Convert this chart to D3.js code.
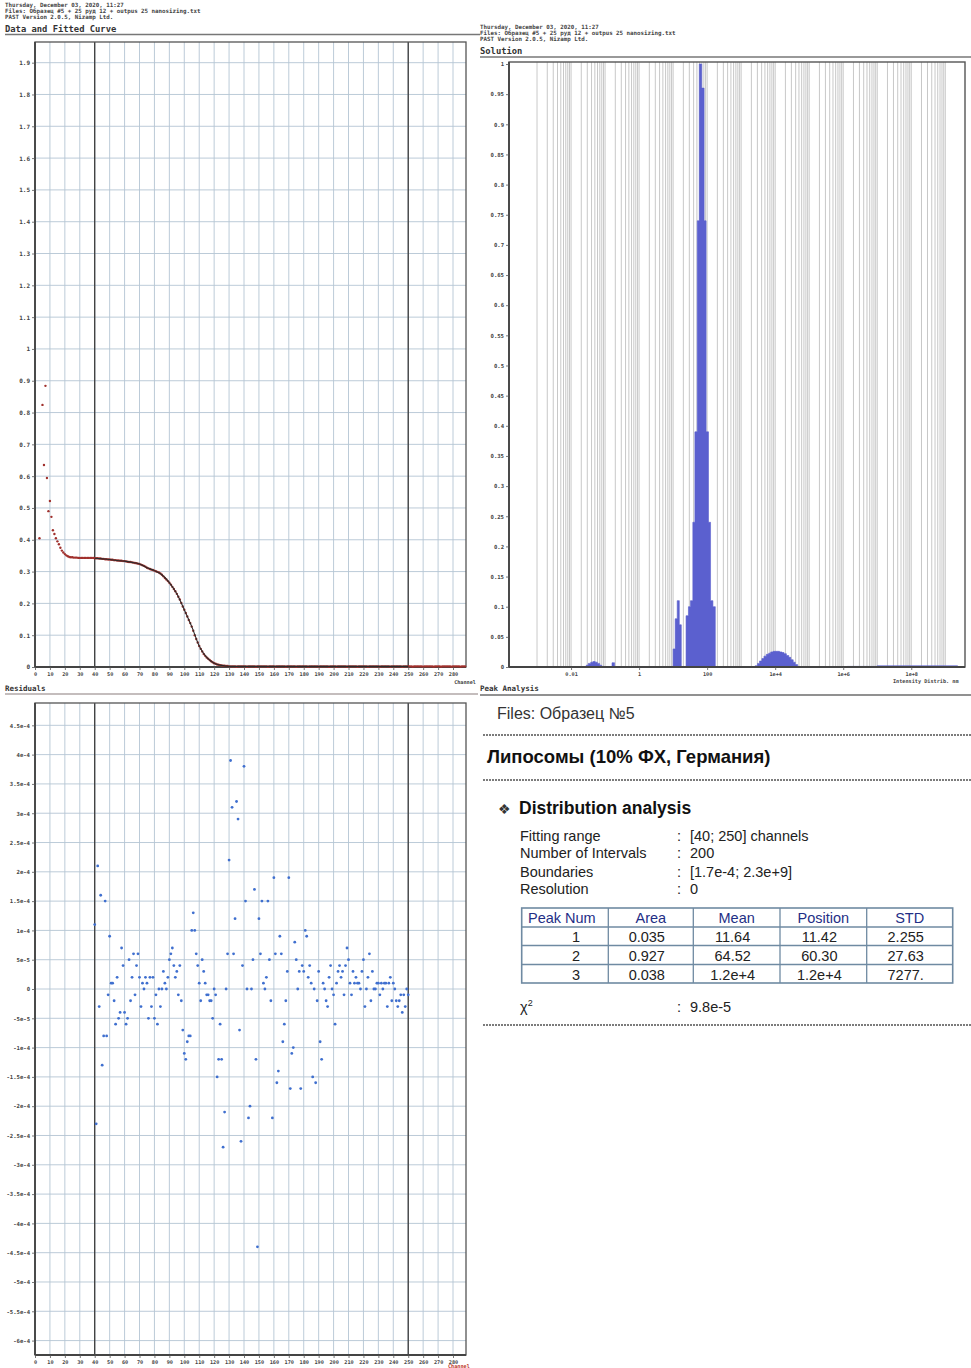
<!DOCTYPE html>
<html><head><meta charset="utf-8">
<script src="https://cdn.jsdelivr.net/npm/d3@7"></script>
<style>body{margin:0;background:#fff}svg{display:block}</style>
</head><body><svg id="c" width="971" height="1368"></svg>
<script>
// ---------- DATA ----------
const channelTicks = [0,10,20,30,40,50,60,70,80,90,100,110,120,130,140,150,160,170,180,190,200,210,220,230,240,250,260,270,280];
const fitRange = [40, 250];
const dataYTicks = [0,0.1,0.2,0.3,0.4,0.5,0.6,0.7,0.8,0.9,1,1.1,1.2,1.3,1.4,1.5,1.6,1.7,1.8,1.9];
const dataYLabels = ["0","0.1","0.2","0.3","0.4","0.5","0.6","0.7","0.8","0.9","1","1.1","1.2","1.3","1.4","1.5","1.6","1.7","1.8","1.9"];
// measured data, channel 3..288, in thousandths (null = not shown)
const dataStartChannel = 3;
const dataMilli = [405,null,824,635,884,594,490,522,472,430,418,405,395,386,375,366,360,355,351,348,346,345,345,
344,344,344,343,343,343,343,343,343,343,343,343,343,343,
342,342,342,341,341,340,340,339,339,338,338,337,337,336,336,335,335,334,334,333,
333,332,331,330,330,329,328,327,326,325,324,322,320,318,315,312,310,308,306,305,
303,301,299,297,294,290,285,280,275,270,265,259,252,245,238,230,221,212,201,190,
180,170,159,148,138,127,114,100,88,77,66,57,49,41,35,30,26,22,18,15,12,10,8,7,6,5,4,4,3,3,2,
2,2,2,2,1,2,2,2,2,2, 2,1,2,2,2,2,2,1,2,2, 2,2,2,2,2,1,2,2,2,2, 1,2,2,2,2,2,2,1,2,2,
2,2,2,2,1,2,2,2,2,2, 2,2,1,2,2,2,2,2,2,1, 2,2,2,2,2,2,1,2,2,2, 2,1,2,2,2,2,2,2,1,2,
2,2,2,2,2,1,2,2,2,2, 2,2,1,2,2,2,2,2,2,2, 1,2,2,2,2,2,2,1,2,2, 2,2,2,2,2,1,2,2,2,2,
2,2,1,2,2,2,2,2,2,1, 2,2,2,2,2,2,1,2,2,2, 2,1,2,2,2,2,2,2,1,2, 2,2,2,2,1,2,2,2];
const fitChannels = [40,45,50,55,60,65,70,75,80,85,90,95,100,105,110,115,120,125,130,135,140,145,150,155,160,165,170,175,180,185,190,195,200,205,210,215,220,225,230,235,240,245,250];
const fitValues = [0.342,0.340,0.338,0.335,0.333,0.329,0.324,0.312,0.303,0.290,0.265,0.230,0.180,0.127,0.066,0.030,0.012,0.005,0.002,0.002,0.002,0.002,0.002,0.002,0.002,0.002,0.002,0.002,0.002,0.002,0.002,0.002,0.002,0.002,0.002,0.002,0.002,0.002,0.002,0.002,0.002,0.002,0.002];

// residuals, channel 40..250, in units of 1e-5
const residualStartChannel = 40;
const residualE5 = [11,-23,21,-3,16,-13,-8,15,-8,-1,
9,1,1,-2,-6,2,-5,-4,7,4,
-4,-6,-5,5,-2,2,6,-1,4,6,
2,-3,1,0,2,1,-5,2,-3,2,
-5,-1,-6,0,-3,0,3,1,0,2,
5,6,7,4,2,3,-1,4,-2,-7,
-11,-12,-9,-8,-8,10,13,10,6,4,
1,-2,5,3,1,-1,-1,-2,-2,-5,
0,-1,-15,-12,-6,-12,-27,-21,0,6,
22,39,31,6,12,32,29,-7,-26,4,
38,15,0,-22,-20,0,5,17,-12,-44,
12,6,15,1,0,2,15,5,-2,-22,
19,6,-16,-14,9,6,-9,-6,-2,3,
19,-17,-11,-10,8,5,0,3,-17,4,
3,10,9,2,4,1,-15,0,-16,-2,
3,-9,-12,1,0,-2,-3,2,4,0,
-1,-6,1,3,4,2,3,-1,4,7,
5,1,-1,3,1,2,1,1,0,3,
5,-3,0,2,6,-2,3,0,0,1,
1,-1,1,0,1,1,-3,1,2,-2,
1,0,-2,-3,-2,-1,-4,-1,-3,0,
-1];
const residYTicks = [4.5e-4,4e-4,3.5e-4,3e-4,2.5e-4,2e-4,1.5e-4,1e-4,5e-5,0,-5e-5,-1e-4,-1.5e-4,-2e-4,-2.5e-4,-3e-4,-3.5e-4,-4e-4,-4.5e-4,-5e-4,-5.5e-4,-6e-4];
const residYLabels = ["4.5e-4","4e-4","3.5e-4","3e-4","2.5e-4","2e-4","1.5e-4","1e-4","5e-5","0","-5e-5","-1e-4","-1.5e-4","-2e-4","-2.5e-4","-3e-4","-3.5e-4","-4e-4","-4.5e-4","-5e-4","-5.5e-4","-6e-4"];

// solution (intensity distribution) – size in nm, intensity
const solSize = [0.024,0.028,0.032,0.038,0.044,0.051,0.059,0.069,0.079,0.093,
0.14,0.16,0.19,
10.0,11.5,13.2,15.2,17.4,
24.0,28.2,32.4,38.0,43.7,51.3,58.9,69.2,81.3,93.3,109.6,125.9,147.9,173.8,
2570,3020,3470,4070,4680,5500,6460,7410,8710,10000,11750,13490,15850,18200,21380,25120,28840,33880,38900,45710,52480,
1.3e6,1e7,1e8,1e9,2.3e9];
const solIntensity = [0,0.003,0.006,0.008,0.009,0.008,0.006,0.003,0.001,0,
0,0.007,0,
0.03,0.08,0.11,0.07,0,
0.085,0.10,0.11,0.24,0.39,0.74,1.0,0.96,0.74,0.39,0.24,0.11,0.10,0,
0.002,0.006,0.010,0.014,0.018,0.021,0.023,0.025,0.026,0.026,0.026,0.025,0.024,0.022,0.019,0.016,0.012,0.008,0.004,0.001,0,
0.001,0.002,0.002,0.002,0];
const solGridRange = [1e-3, 1e9];
const solXTicks = [0.01,1,100,1e4,1e6,1e8];
const solXLabels = ["0.01","1","100","1e+4","1e+6","1e+8"];
const solYTicks = [0,0.05,0.1,0.15,0.2,0.25,0.3,0.35,0.4,0.45,0.5,0.55,0.6,0.65,0.7,0.75,0.8,0.85,0.9,0.95,1];
const solYLabels = ["0","0.05","0.1","0.15","0.2","0.25","0.3","0.35","0.4","0.45","0.5","0.55","0.6","0.65","0.7","0.75","0.8","0.85","0.9","0.95","1"];

// peak analysis
const peakHeader = ["Peak Num","Area","Mean","Position","STD"];
const peakNum = ["1","2","3"];
const peakArea = ["0.035","0.927","0.038"];
const peakMean = ["11.64","64.52","1.2e+4"];
const peakPosition = ["11.42","60.30","1.2e+4"];
const peakSTD = ["2.255","27.63","7277."];
const infoLabels = ["Fitting range","Number of Intervals","Boundaries","Resolution"];
const infoValues = ["[40; 250] channels","200","[1.7e-4; 2.3e+9]","0"];
const chiValue = "9.8e-5";

// ---------- DRAW ----------
const svg = d3.select("#c");
svg.append("rect").attr("width",971).attr("height",1368).attr("fill","#fff");
const MONO = "'DejaVu Sans Mono', monospace";
const SANS = "'Liberation Sans', Arial, sans-serif";
const gridCol = "#b4c5d4";

function tiny(x,y,t,opts={}) {
  return svg.append("text").attr("x",x).attr("y",y).text(t)
    .attr("font-family",MONO).attr("font-weight","bold")
    .attr("font-size",opts.size||5.8).attr("fill",opts.fill||"#444")
    .attr("text-anchor",opts.anchor||"start");
}
function styleAxis(g, size){
  g.select(".domain").remove();
  g.selectAll("line").attr("stroke","#555").attr("stroke-width",0.8);
  g.selectAll("text").attr("font-family",MONO).attr("font-weight","bold")
    .attr("font-size",size||5).attr("fill","#444");
}

// headers
tiny(5,7,"Thursday, December 03, 2020, 11:27");
tiny(5,13,"Files: Образец #5 + 25 руд 12 + outpus 25 nanosizing.txt");
tiny(5,19,"PAST Version 2.0.5, Nizamp Ltd.");
tiny(5,32,"Data and Fitted Curve",{size:8.8,fill:"#333"});
svg.append("line").attr("x1",5).attr("x2",480).attr("y1",34.5).attr("y2",34.5).attr("stroke","#777").attr("stroke-width",1.3);

tiny(480,29,"Thursday, December 03, 2020, 11:27");
tiny(480,35,"Files: Образец #5 + 25 руд 12 + outpus 25 nanosizing.txt");
tiny(480,41,"PAST Version 2.0.5, Nizamp Ltd.");
tiny(480,54,"Solution",{size:8.8,fill:"#333"});
svg.append("line").attr("x1",480).attr("x2",971).attr("y1",57).attr("y2",57).attr("stroke","#777").attr("stroke-width",1.3);

tiny(5,691,"Residuals",{size:7.5,fill:"#333"});
svg.append("line").attr("x1",5).attr("x2",478).attr("y1",694).attr("y2",694).attr("stroke","#8a7d7d").attr("stroke-width",1.2);
tiny(480,691,"Peak Analysis",{size:7.5,fill:"#333"});
svg.append("line").attr("x1",480).attr("x2",971).attr("y1",695).attr("y2",695).attr("stroke","#6d6d6d").attr("stroke-width",1.6);

// ---- Data and Fitted Curve panel ----
const P1 = {l:35,r:466,t:42,b:667};
const xCh = d3.scaleLinear().domain([0,288.7]).range([P1.l,P1.r]);
const yData = d3.scaleLinear().domain([0,1.965]).range([P1.b,P1.t]);
const g1 = svg.append("g");
g1.selectAll("line.v").data(channelTicks).join("line")
  .attr("x1",d=>xCh(d)).attr("x2",d=>xCh(d)).attr("y1",P1.t).attr("y2",P1.b)
  .attr("stroke",gridCol).attr("stroke-width",0.9);
g1.selectAll("line.h").data(dataYTicks).join("line")
  .attr("x1",P1.l).attr("x2",P1.r).attr("y1",d=>yData(d)).attr("y2",d=>yData(d))
  .attr("stroke",gridCol).attr("stroke-width",0.9);
g1.selectAll("line.fr").data(fitRange).join("line")
  .attr("x1",d=>xCh(d)).attr("x2",d=>xCh(d)).attr("y1",P1.t).attr("y2",P1.b)
  .attr("stroke","#3a3a3a").attr("stroke-width",1.3);
g1.append("rect").attr("x",P1.l).attr("y",P1.t).attr("width",P1.r-P1.l).attr("height",P1.b-P1.t)
  .attr("fill","none").attr("stroke","#555").attr("stroke-width",1.3);
g1.append("line").attr("x1",P1.l).attr("x2",P1.l).attr("y1",P1.t).attr("y2",P1.b).attr("stroke","#444").attr("stroke-width",1.8);
g1.append("line").attr("x1",P1.l).attr("x2",P1.r).attr("y1",P1.b).attr("y2",P1.b).attr("stroke","#444").attr("stroke-width",1.8);
const dataPts = dataMilli.map((v,i)=>({ch:dataStartChannel+i, v:v})).filter(d=>d.v!==null);
g1.selectAll("circle").data(dataPts).join("circle")
  .attr("cx",d=>xCh(d.ch)).attr("cy",d=>yData(d.v/1000)).attr("r",1.2).attr("fill","#a0302c");
const fitLine = d3.line().x((d,i)=>xCh(fitChannels[i])).y(d=>yData(d)).curve(d3.curveMonotoneX);
g1.append("path").attr("d",fitLine(fitValues)).attr("fill","none").attr("stroke","#2b2b2b").attr("stroke-width",1.1);
const ax1 = svg.append("g").attr("transform",`translate(${P1.l},0)`)
  .call(d3.axisLeft(yData).tickValues(dataYTicks).tickFormat((d,i)=>dataYLabels[i]).tickSize(3).tickPadding(2));
styleAxis(ax1,6);
const ax1b = svg.append("g").attr("transform",`translate(0,${P1.b})`)
  .call(d3.axisBottom(xCh).tickValues(channelTicks).tickFormat(d=>String(d)).tickSize(3).tickPadding(2));
styleAxis(ax1b,5.2);
tiny(P1.r+10,684,"Channel",{size:5.2,anchor:"end"});

// ---- Residuals panel ----
const P3 = {l:35,r:466,t:703,b:1355};
const yRes = d3.scaleLinear().domain([-6.246e-4,4.881e-4]).range([P3.b,P3.t]);
const g3 = svg.append("g");
g3.selectAll("line.v").data(channelTicks).join("line")
  .attr("x1",d=>xCh(d)).attr("x2",d=>xCh(d)).attr("y1",P3.t).attr("y2",P3.b)
  .attr("stroke",gridCol).attr("stroke-width",0.9);
g3.selectAll("line.h").data(residYTicks).join("line")
  .attr("x1",P3.l).attr("x2",P3.r).attr("y1",d=>yRes(d)).attr("y2",d=>yRes(d))
  .attr("stroke",gridCol).attr("stroke-width",0.9);
g3.selectAll("line.fr").data(fitRange).join("line")
  .attr("x1",d=>xCh(d)).attr("x2",d=>xCh(d)).attr("y1",P3.t).attr("y2",P3.b)
  .attr("stroke","#3a3a3a").attr("stroke-width",1.3);
g3.append("rect").attr("x",P3.l).attr("y",P3.t).attr("width",P3.r-P3.l).attr("height",P3.b-P3.t)
  .attr("fill","none").attr("stroke","#555").attr("stroke-width",1.3);
g3.append("line").attr("x1",P3.l).attr("x2",P3.l).attr("y1",P3.t).attr("y2",P3.b).attr("stroke","#444").attr("stroke-width",1.8);
g3.append("line").attr("x1",P3.l).attr("x2",P3.r).attr("y1",P3.b).attr("y2",P3.b).attr("stroke","#444").attr("stroke-width",1.8);
g3.selectAll("circle").data(residualE5).join("circle")
  .attr("cx",(d,i)=>xCh(residualStartChannel+i)).attr("cy",d=>yRes(d*1e-5))
  .attr("r",1.4).attr("fill","#3f6fcf");
const ax3 = svg.append("g").attr("transform",`translate(${P3.l},0)`)
  .call(d3.axisLeft(yRes).tickValues(residYTicks).tickFormat((d,i)=>residYLabels[i]).tickSize(3).tickPadding(2));
styleAxis(ax3,5.6);
const ax3b = svg.append("g").attr("transform",`translate(0,${P3.b})`)
  .call(d3.axisBottom(xCh).tickValues(channelTicks).tickFormat(d=>String(d)).tickSize(3).tickPadding(2));
styleAxis(ax3b,5.2);
tiny(448,1368,"Channel",{size:5.2,fill:"#c0392b"});

// ---- Solution panel ----
const P2 = {l:509,r:965,t:62,b:667};
const xSol = d3.scaleLog().domain([1.5e-4,3.8e9]).range([P2.l,P2.r]);
const ySol = d3.scaleLinear().domain([0,1]).range([P2.b,64]);
const g2 = svg.append("g");
const solGrid = xSol.ticks(60).filter(d=>d>=solGridRange[0] && d<=solGridRange[1]);
g2.selectAll("line.v").data(solGrid).join("line")
  .attr("x1",d=>xSol(d)).attr("x2",d=>xSol(d)).attr("y1",P2.t).attr("y2",P2.b)
  .attr("stroke","#c2c2c2").attr("stroke-width",0.9);
const solPts = solSize.map((s,i)=>({s:s,v:solIntensity[i]}));
const area = d3.area().x(d=>xSol(d.s)).y0(ySol(0)).y1(d=>ySol(d.v)).curve(d3.curveStepAfter);
g2.append("path").attr("d",area(solPts)).attr("fill","#5b60cf").attr("stroke","#5b60cf").attr("stroke-width",0.6);
g2.append("rect").attr("x",P2.l).attr("y",P2.t).attr("width",P2.r-P2.l).attr("height",P2.b-P2.t)
  .attr("fill","none").attr("stroke","#555").attr("stroke-width",1.4);
g2.append("line").attr("x1",P2.l).attr("x2",P2.l).attr("y1",P2.t).attr("y2",P2.b).attr("stroke","#444").attr("stroke-width",1.8);
g2.append("line").attr("x1",P2.l).attr("x2",P2.r).attr("y1",P2.b).attr("y2",P2.b).attr("stroke","#444").attr("stroke-width",1.8);
const ax2 = svg.append("g").attr("transform",`translate(${P2.l},0)`)
  .call(d3.axisLeft(ySol).tickValues(solYTicks).tickFormat((d,i)=>solYLabels[i]).tickSize(3).tickPadding(2));
styleAxis(ax2,5.6);
const ax2b = svg.append("g").attr("transform",`translate(0,${P2.b})`)
  .call(d3.axisBottom(xSol).tickValues(solXTicks).tickFormat((d,i)=>solXLabels[i]).tickSize(3).tickPadding(2));
styleAxis(ax2b,5.2);
tiny(893,683,"Intensity Distrib. nm",{size:5.2});

// ---- Peak Analysis text ----
function txt(x,y,t,o={}){
  return svg.append("text").attr("x",x).attr("y",y).text(t)
    .attr("font-family",SANS).attr("font-size",o.size||14.5)
    .attr("font-weight",o.bold?"bold":"normal").attr("fill",o.fill||"#222")
    .attr("text-anchor",o.anchor||"start");
}
function sepLine(y){
  svg.append("line").attr("x1",483).attr("x2",971).attr("y1",y).attr("y2",y)
    .attr("stroke","#7c7c7c").attr("stroke-width",2.2).attr("stroke-dasharray","2,1");
}
txt(497,719,"Files: Образец №5",{size:16,fill:"#333"});
sepLine(735);
txt(487,763,"Липосомы (10% ФХ, Германия)",{size:18.5,bold:true,fill:"#111"});
sepLine(780);
txt(498,814,"❖",{size:14,fill:"#333"});
txt(519,814,"Distribution analysis",{size:17.5,bold:true,fill:"#111"});
const infoY = [841,858,877,894];
infoLabels.forEach((l,i)=>{
  txt(520,infoY[i],l);
  txt(677,infoY[i],":");
  txt(690,infoY[i],infoValues[i]);
});
// table
const colX = [521.7,608.3,693.3,780,866.7,952.7];
const rowY = [908,927,945.5,964.5,983];
const tg = svg.append("g");
tg.append("rect").attr("x",colX[0]).attr("y",rowY[0]).attr("width",colX[5]-colX[0]).attr("height",rowY[4]-rowY[0])
  .attr("fill","none").attr("stroke","#6f8aa2").attr("stroke-width",1.6);
tg.selectAll("line.c").data(colX.slice(1,5)).join("line")
  .attr("x1",d=>d).attr("x2",d=>d).attr("y1",rowY[0]).attr("y2",rowY[4]).attr("stroke","#6f8aa2").attr("stroke-width",1.3);
tg.selectAll("line.r").data(rowY.slice(1,4)).join("line")
  .attr("x1",colX[0]).attr("x2",colX[5]).attr("y1",d=>d).attr("y2",d=>d).attr("stroke","#6f8aa2").attr("stroke-width",1.3);
const headY = 923, valY = [942,961,980];
txt(528,headY,peakHeader[0],{fill:"#1f2f86"});
[1,2,3,4].forEach(k=>txt((colX[k]+colX[k+1])/2,headY,peakHeader[k],{fill:"#1f2f86",anchor:"middle"}));
const cols = [peakArea,peakMean,peakPosition,peakSTD];
peakNum.forEach((n,r)=>{
  txt(580,valY[r],n,{anchor:"end"});
  cols.forEach((c,k)=>txt((colX[k+1]+colX[k+2])/2-4,valY[r],c[r],{anchor:"middle"}));
});
const chi = txt(520,1012,"χ");
chi.append("tspan").attr("dy",-6).attr("font-size",9).text("2");
txt(677,1012,":");
txt(690,1012,chiValue);
sepLine(1025);
</script>
</body></html>
